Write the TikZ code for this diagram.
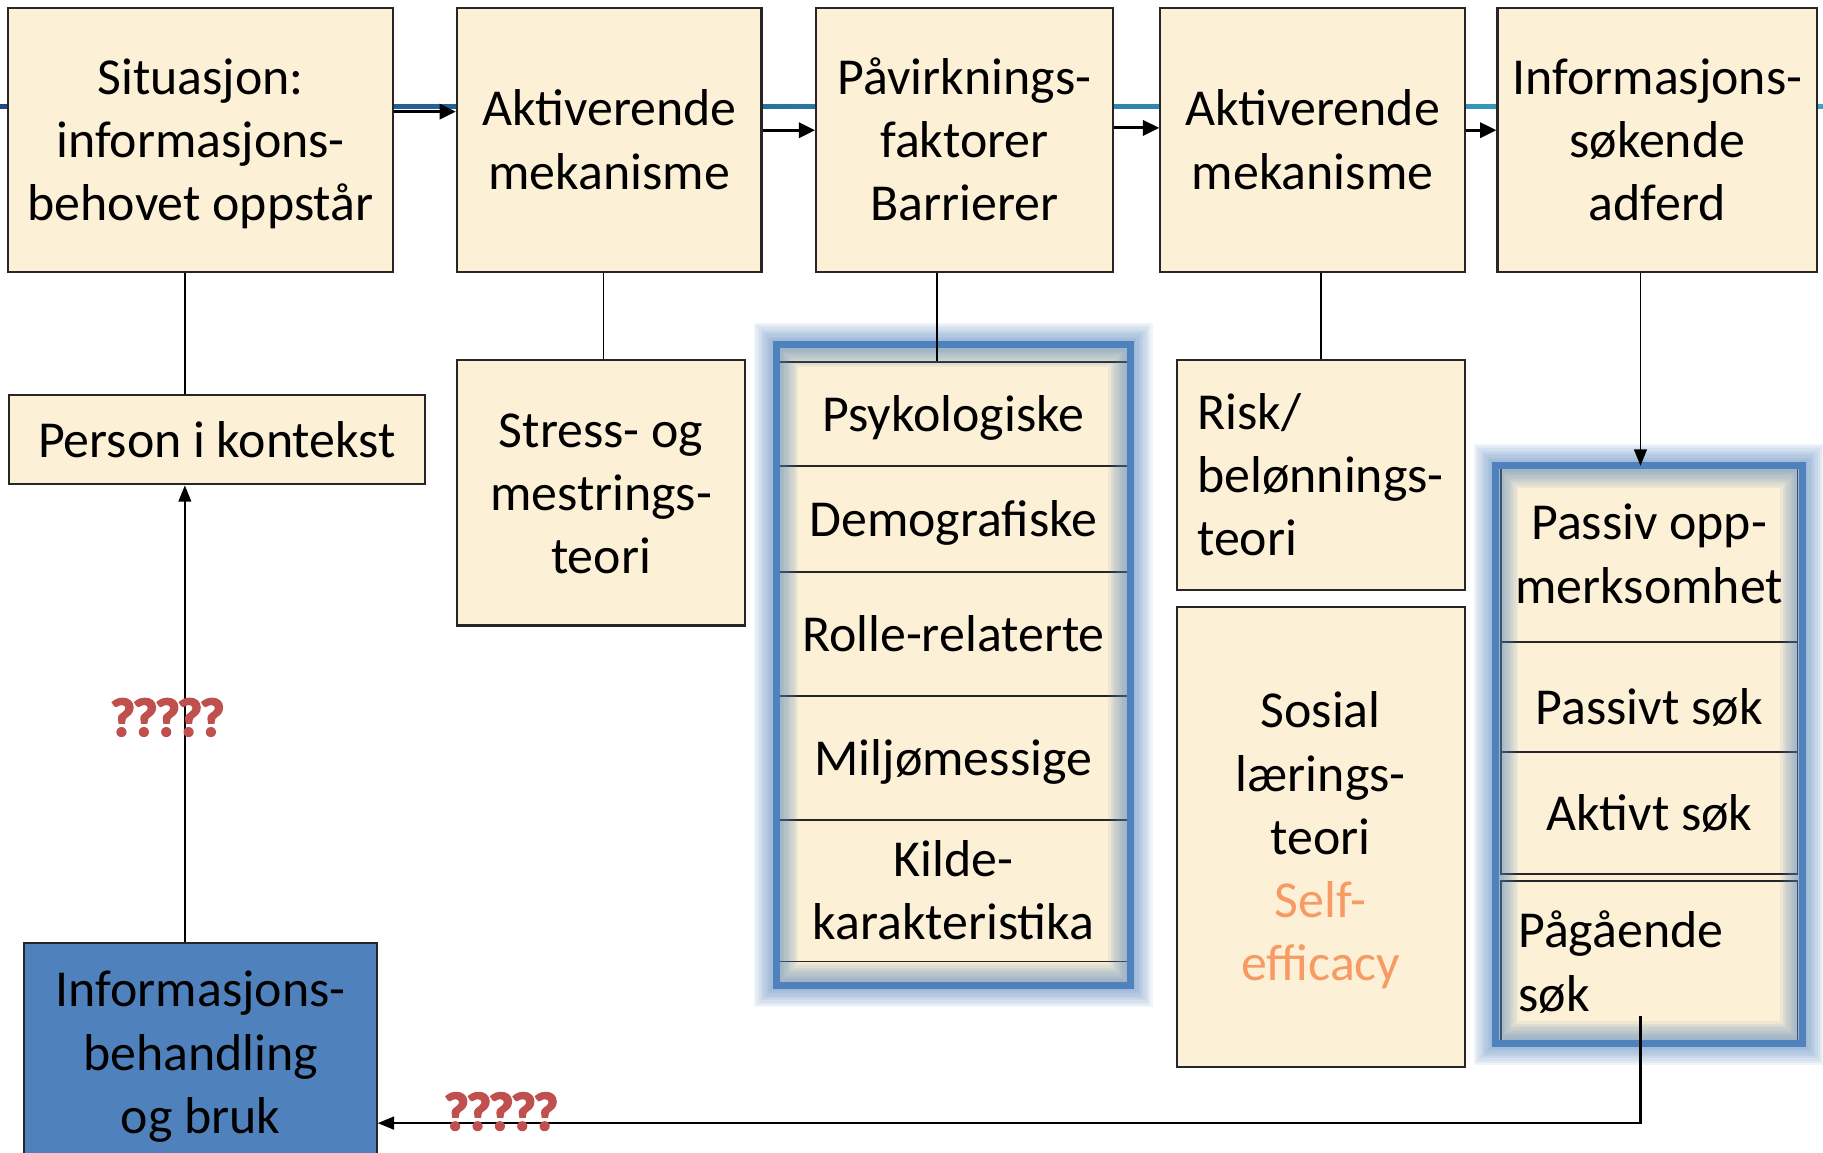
\documentclass[tikz,border=0pt]{standalone}
\usepackage{fontspec}
\setmainfont{Carlito}
\newfontfamily\qfont[FakeBold=4,LetterSpace=-4.5]{Carlito}
\usetikzlibrary{arrows.meta,calc}

\definecolor{parch}{HTML}{FCF0D6}
\definecolor{accblue}{HTML}{4F81BD}
\definecolor{navyline}{HTML}{1F4A86}
\definecolor{tealline}{HTML}{37AAC3}
\definecolor{qred}{HTML}{C0504D}
\definecolor{selfor}{HTML}{F79A63}

% struts that fix the first ascent and last descent of every text block
\newcommand\strtop{\rule{0pt}{20pt}}
\newcommand\strbot{\rule[-5pt]{0pt}{5pt}}

\tikzset{
  px/.style 2 args={minimum width=#1*0.5pt, minimum height=#2*0.5pt},
  card/.style={draw=black!85, line width=0.9pt, fill=parch, inner sep=0pt,
    align=center, font=\fontsize{22.3}{27.2}\selectfont},
  cell/.style={card, line width=0.8pt},
  link/.style={line width=0.7pt, draw=black},
  flow/.style={line width=1.3pt, -{Triangle[length=7pt,width=6.5pt]}},
  tip/.style={-{Triangle[length=7pt,width=5.5pt]}},
  ask/.style={text=qred, font=\qfont\fontsize{23}{26}\selectfont\bfseries, inner sep=0pt},
  frame/.style={fill=parch, inner sep=0pt},
}

\begin{document}
\begin{tikzpicture}[x=0.5pt,y=-0.5pt]
\useasboundingbox (0,0) rectangle (1568,991);
\fill[white] (0,0) rectangle (1568,991);

% timeline running behind the top row
\shade[left color=navyline, right color=tealline] (0,89.5) rectangle (1568,93.5);

% ---------- top row ----------
\node[card, px={331}{227}] (sit)   at (172.5,120.5) {\strtop Situasjon:\\informasjons-\\behovet oppstår\strbot};
\node[card, px={262}{227}] (akt1)  at (524,120.5)   {\strtop Aktiverende\\mekanisme\strbot};
\node[card, px={255}{227}] (paav)  at (829.5,120.5) {\strtop Påvirknings-\\faktorer\\Barrierer\strbot};
\node[card, px={262}{227}] (akt2)  at (1129,120.5)  {\strtop Aktiverende\\mekanisme\strbot};
\node[card, px={275}{227}] (sok)   at (1425.5,120.5){\strtop Informasjons-\\søkende\\adferd\strbot};

% arrows between the stages
\coordinate (yA) at (0,96);
\coordinate (yB) at (0,112);
\coordinate (yC) at (0,110);
\draw[flow] (sit.east |- yA)  -- (akt1.west |- yA);
\draw[flow] (akt1.east |- yB) -- (paav.west |- yB);
\draw[flow] (paav.east |- yC) -- (akt2.west |- yC);
\draw[flow] (akt2.east |- yB) -- (sok.west |- yB);

% ---------- second row ----------
\node[card, px={358}{76.6}] (pers)   at (186.5,378.3) {\strtop Person i kontekst\strbot};
\node[card, px={248}{228}]  (stress) at (517,424)     {\strtop Stress- og\\mestrings-\\teori\strbot};
\node[card, px={247.5}{197.5}, align=left, text width=106.5pt, inner xsep=8.5pt] (risk)
  at (1136.25,408.75) {\strtop Risk/\\belønnings-\\teori\strbot};
\node[card, px={248}{395.5}] (sosial) at (1136,719.75)
  {\strtop Sosial\\lærings-\\teori\\\textcolor{selfor}{Self-}\\\textcolor{selfor}{efficacy}\strbot};

% ---------- factor column ----------
\node[frame, px={304}{550}] (fr1) at (820,572) {};
\node[cell, px={300}{90}]  (psy)   at (820,356)   {\strtop Psykologiske\strbot};
\node[cell, px={300}{91}]  (demo)  at (820,446.5) {\strtop Demografiske\strbot};
\node[cell, px={300}{107}] (rolle) at (820,545.5) {\strtop Rolle-relaterte\strbot};
\node[cell, px={300}{106}] (milj)  at (820,652)   {\strtop Miljømessige\strbot};
\node[cell, px={300}{122}] (kilde) at (820,766)   {\strtop Kilde-\\karakteristika\strbot};

% ---------- search-mode column ----------
\node[frame, px={263}{496}] (fr2) at (1418.5,649) {};
\node[cell, px={255}{151}] (passiv) at (1418.5,476.5) {\strtop Passiv opp-\\merksomhet\strbot};
\node[cell, px={255}{95}]  (psok)   at (1418.5,599.5) {\rule{0pt}{28.5pt}Passivt søk\strbot};
\node[cell, px={255}{105}] (asok)   at (1418.5,699.5) {\strtop Aktivt søk\strbot};
\node[cell, px={255}{139}, align=left, text width=112.5pt, inner xsep=7.5pt] (pag)
  at (1418.5,827.5) {\strtop Pågående\\søk\strbot};

% soft glow and border of both columns
\foreach \fr in {fr1,fr2}{
  \foreach \w in {38,34,30,26,22,18,14,10}{
    \draw[accblue, line width=\w*0.5pt, opacity=0.085] (\fr.north west) rectangle (\fr.south east);
  }
  \draw[accblue, line width=3pt] (\fr.north west) rectangle (\fr.south east);
}

% ---------- processing box ----------
\node[card, px={303}{189}, fill=accblue] (behandl) at (172.5,905.5)
  {\strtop Informasjons-\\behandling\\og bruk\strbot};

% ---------- vertical links ----------
\coordinate (colA) at (159,0);
\coordinate (colB) at (519,0);
\coordinate (colC) at (806,0);
\coordinate (colD) at (1136,0);
\coordinate (colE) at (1411,0);
\draw[link] (colA |- sit.south)  -- (colA |- pers.north);
\draw[link] (colB |- akt1.south) -- (colB |- stress.north);
\draw[link] (colC |- paav.south) -- (colC |- psy.north);
\draw[link] (colD |- akt2.south) -- (colD |- risk.north);
\draw[link, tip] (colE |- sok.south) -- (colE |- fr2.north);
\draw[link, tip] (colA |- behandl.north) -- (colA |- pers.south);

% feedback from ongoing search back to processing
\coordinate (ret) at (1411,874);
\coordinate (retcorner) at (1411,966);
\draw[link, line width=0.9pt, tip] (ret) -- (retcorner) -- (retcorner -| behandl.east);

% open questions
\node[ask] (q1) at (144,617) {?????};
\node[ask] (q2) at (431,956) {?????};
\end{tikzpicture}
\end{document}
